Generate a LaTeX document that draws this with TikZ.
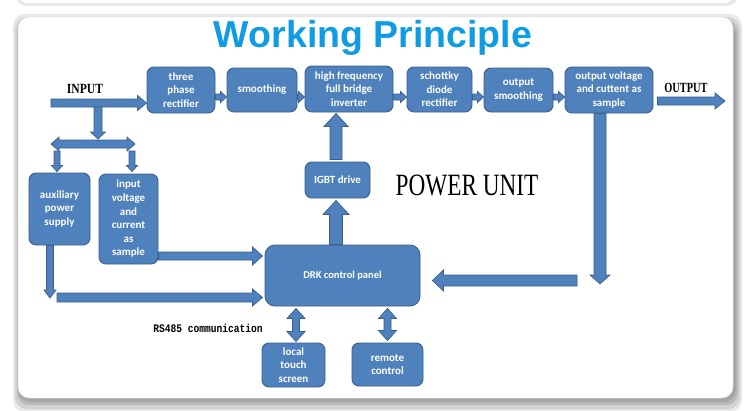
\documentclass[tikz,border=0pt]{standalone}
\usepackage{fontspec}
\usepackage{graphicx}
\setmainfont{Liberation Serif}
\newfontfamily\carlito{Carlito}
\newfontfamily\arialf{Liberation Sans}
\newfontfamily\monof{Liberation Mono}
\usetikzlibrary{calc}
\definecolor{boxblue}{RGB}{79,129,189}
\definecolor{boxline}{RGB}{58,95,140}
\definecolor{titleblue}{RGB}{16,156,226}
\tikzset{
  blk/.style={rectangle, rounded corners=7pt, fill=boxblue, draw=boxline, line width=0.9pt,
    text=white, align=center, inner sep=0pt, font=\carlito\bfseries\fontsize{11}{13.6}\selectfont},
  sz/.style 2 args={minimum width=#1pt, minimum height=#2pt},
  barr/.style={fill=boxblue, draw=boxline, line width=0.7pt, line join=miter},
}
% single block arrow: from, to, shaft half width, head half width, head length
\newcommand\barrow[5]{%
  \coordinate (bC) at ($(#2)!#5!(#1)$);
  \filldraw[barr] ($(#1)!#3!90:(#2)$) -- ($(bC)!#3!90:(#2)$) -- ($(bC)!#4!90:(#2)$) -- (#2)
    -- ($(bC)!#4!-90:(#2)$) -- ($(bC)!#3!-90:(#2)$) -- ($(#1)!#3!-90:(#2)$) -- cycle;}
% double block arrow
\newcommand\dbarrow[5]{%
  \coordinate (bC) at ($(#2)!#5!(#1)$);
  \coordinate (bD) at ($(#1)!#5!(#2)$);
  \filldraw[barr] (#1) -- ($(bD)!#4!90:(#2)$) -- ($(bD)!#3!90:(#2)$) -- ($(bC)!#3!90:(#2)$)
    -- ($(bC)!#4!90:(#2)$) -- (#2) -- ($(bC)!#4!-90:(#2)$) -- ($(bC)!#3!-90:(#2)$)
    -- ($(bD)!#3!-90:(#2)$) -- ($(bD)!#4!-90:(#2)$) -- cycle;}
\begin{document}
\begin{tikzpicture}[x=1pt,y=-1pt]
\useasboundingbox (0,0) rectangle (750,410);
\fill[white] (0,0) rectangle (750,410);
% faint shadow of panel above
\begin{scope}
\clip (0,0) rectangle (750,410);
\fill[gray!18, rounded corners=10pt] (16,-30) rectangle (737,6);
\fill[white, rounded corners=10pt] (18,-30) rectangle (734,3);
\end{scope}
% panel shadow
\fill[gray!18, rounded corners=12pt] (13,14) rectangle (742,412);
\fill[gray!35, rounded corners=12pt] (15,17) rectangle (740,409);
\fill[gray!55, rounded corners=12pt] (17,20) rectangle (738,405);
\fill[gray!70, rounded corners=12pt] (18,24) rectangle (736,402);
\filldraw[white, draw=gray!30, rounded corners=11pt] (18,17) rectangle (733,398);

% title
\node (title) at (373,38) {\arialf\bfseries\fontsize{37.5}{40}\selectfont\color{titleblue}Working Principle};

% boxes
\node[blk, sz={68}{46}] (rect) at (181,90) {three\\phase\\rectifier};
\node[blk, sz={70}{44}] (smooth) at (262,90) {smoothing};
\node[blk, sz={88}{46}] (inv) at (349,89) {high frequency\\full bridge\\inverter};
\node[blk, sz={65}{45}] (schot) at (439.5,89.5) {schottky\\diode\\rectifier};
\node[blk, sz={69}{44}] (osmooth) at (518.5,90) {output\\smoothing};
\node[blk, sz={88}{46}] (osample) at (609,90) {output voltage\\and cuttent as\\sample};
\node[blk, sz={61}{72}] (aux) at (59.5,209) {auxiliary\\power\\supply};
\node[blk, sz={59}{90}] (isample) at (128.5,219) {input\\voltage\\and\\current\\as\\sample};
\node[blk, sz={65}{36}] (igbt) at (337.5,180) {IGBT drive};
\node[blk, sz={155}{61}, rounded corners=10pt, font=\carlito\bfseries\fontsize{10.5}{13}\selectfont] (drk) at (342.5,275.5) {DRK control panel};
\node[blk, sz={63}{44}] (touch) at (293.5,365) {local\\touch\\screen};
\node[blk, sz={71}{43}] (remote) at (387.5,364.5) {remote\\control};

% labels
\node (inlbl) at (85,88.5) {\bfseries\fontsize{14}{16}\selectfont\scalebox{0.83}[1]{INPUT}};
\node (outlbl) at (686,88) {\bfseries\fontsize{14}{16}\selectfont\scalebox{0.74}[1]{OUTPUT}};
\node (pu) at (467,185.5) {\fontsize{31}{34}\selectfont\scalebox{0.75}[1]{POWER UNIT}};
\node (rs) at (208,328.5) {\monof\bfseries\fontsize{9.6}{11}\selectfont\scalebox{1}[1.2]{RS485 communication}};

% input arrow
\coordinate (inS) at (51,103);
\coordinate (inE) at (rect.west |- inS);
\barrow{inS}{inE}{4pt}{7.5pt}{9pt}

% top row small arrows
\coordinate (yrow) at (0,97);
\coordinate (a1) at (rect.east |- yrow);    \coordinate (b1) at (smooth.west |- yrow);
\coordinate (a2) at (smooth.east |- yrow);  \coordinate (b2) at (inv.west |- yrow);
\coordinate (a3) at (inv.east |- yrow);     \coordinate (b3) at (schot.west |- yrow);
\coordinate (a4) at (schot.east |- yrow);   \coordinate (b4) at (osmooth.west |- yrow);
\coordinate (a5) at (osmooth.east |- yrow); \coordinate (b5) at (osample.west |- yrow);
\barrow{a1}{b1}{3pt}{5.5pt}{6pt}
\barrow{a2}{b2}{3pt}{5.5pt}{6pt}
\barrow{a3}{b3}{3pt}{5.5pt}{6pt}
\barrow{a4}{b4}{3pt}{5.5pt}{6pt}
\barrow{a5}{b5}{3pt}{5.5pt}{6pt}

% output arrow
\coordinate (outS) at ($(osample.east)+(4,11)$);
\coordinate (outE) at (725,101);
\barrow{outS}{outE}{4pt}{8pt}{10pt}

% split
\coordinate (sdA) at (98,107);
\coordinate (sdB) at (98,139);
\barrow{sdA}{sdB}{4pt}{7.5pt}{7pt}
\coordinate (spL) at (51,144);
\coordinate (spR) at (135,144);
\dbarrow{spL}{spR}{4pt}{7pt}{8pt}
\coordinate (dlA) at (57,151);
\coordinate (dlB) at ($(aux.north)+(-2.5,-1)$);
\barrow{dlA}{dlB}{3pt}{5.5pt}{6pt}
\coordinate (drA) at (132,151);
\coordinate (drB) at ($(isample.north)+(3.5,-2)$);
\barrow{drA}{drB}{3pt}{5.5pt}{6pt}

% inputs to DRK
\coordinate (y256) at (0,256);
\coordinate (isA) at (isample.east |- y256);
\coordinate (isB) at ($(drk.west |- y256)+(-2,0)$);
\barrow{isA}{isB}{4pt}{9pt}{10pt}
\coordinate (auxA) at ($(aux.south)+(-9.5,0)$);
\coordinate (auxB) at (50,298);
\barrow{auxA}{auxB}{3.5pt}{6pt}{8pt}
\coordinate (y297) at (0,297.5);
\coordinate (lhA) at (57,297.5);
\coordinate (lhB) at ($(drk.west |- y297)+(-2,0)$);
\barrow{lhA}{lhB}{4.5pt}{8.5pt}{10pt}

% DRK -> IGBT -> inverter
\coordinate (igA) at ($(drk.north)+(-6.5,0)$);
\coordinate (igB) at ($(igbt.south)+(-1.5,2)$);
\barrow{igA}{igB}{6.5pt}{13pt}{14pt}
\coordinate (ivA) at ($(igbt.north)+(-1.5,-2)$);
\coordinate (ivB) at ($(inv.south)+(-13,1)$);
\barrow{ivA}{ivB}{6pt}{12pt}{13pt}

% output sample feedback
\coordinate (fbA) at ($(osample.south)+(-9,0)$);
\coordinate (fbB) at (600,284);
\barrow{fbA}{fbB}{6pt}{10pt}{9pt}
\coordinate (y280) at (0,280.5);
\coordinate (flA) at (577,280.5);
\coordinate (flB) at ($(drk.east |- y280)+(12,0)$);
\barrow{flA}{flB}{5.5pt}{10.5pt}{11pt}

% RS485 double arrows
\coordinate (t1) at ($(drk.south)+(-46.5,2)$);
\coordinate (t2) at ($(touch.north)+(2.5,-1)$);
\dbarrow{t1}{t2}{3.5pt}{9pt}{10pt}
\coordinate (r1) at ($(drk.south)+(45,2)$);
\coordinate (r2) at ($(remote.north)+(0,-2)$);
\dbarrow{r1}{r2}{3.5pt}{9pt}{10pt}
\end{tikzpicture}
\end{document}
